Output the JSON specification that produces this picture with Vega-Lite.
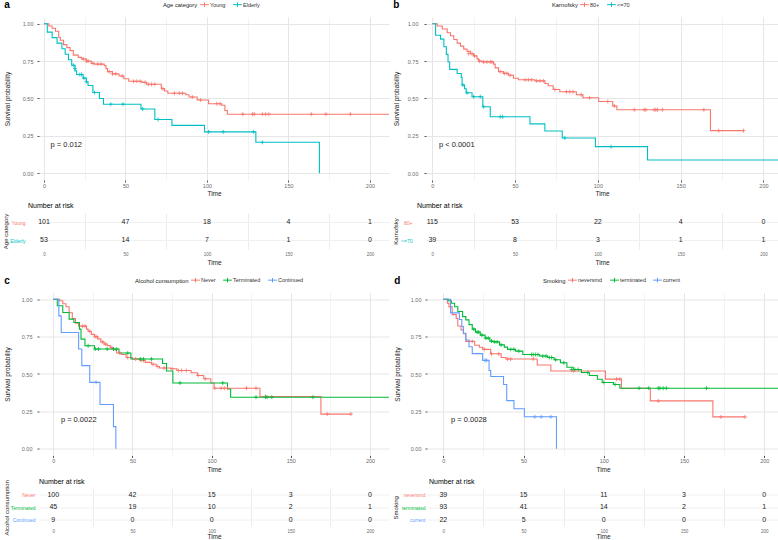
{
"$schema": "https://vega.github.io/schema/vega-lite/v6.json",
"background": "white",
"padding": {"left": 2, "top": 0, "right": 0, "bottom": 0},
"config": {
  "font": "Liberation Sans",
  "view": {"stroke": null},
  "axis": {"domain": false, "labelColor": "#6b6b6b", "titleColor": "#222222", "titleFontWeight": "normal", "labelFontSize": 5.5, "titleFontSize": 6.5, "tickColor": "#555555", "tickSize": 2, "labelPadding": 1, "titlePadding": 2},
  "legend": {"labelFontSize": 5.5, "titleFontSize": 5.8, "titleFontWeight": "normal", "labelColor": "#333333", "titleColor": "#222222"},
  "title": {"fontSize": 10, "fontWeight": "bold", "anchor": "start", "color": "#000000"}
},
"datasets": {
  "a_curve": [
    {"g":"Young","t":0,"s":1},{"g":"Young","t":3,"s":0.985},{"g":"Young","t":5,"s":0.97},{"g":"Young","t":7,"s":0.95},{"g":"Young","t":9,"s":0.91},{"g":"Young","t":10,"s":0.89},{"g":"Young","t":12,"s":0.86},{"g":"Young","t":14,"s":0.84},{"g":"Young","t":16,"s":0.82},{"g":"Young","t":18,"s":0.79},{"g":"Young","t":21,"s":0.775},{"g":"Young","t":23,"s":0.765},{"g":"Young","t":26,"s":0.75},{"g":"Young","t":29,"s":0.735},{"g":"Young","t":31,"s":0.73},{"g":"Young","t":37,"s":0.72},{"g":"Young","t":38,"s":0.7},{"g":"Young","t":39,"s":0.68},{"g":"Young","t":42,"s":0.665},{"g":"Young","t":46,"s":0.65},{"g":"Young","t":49,"s":0.632},{"g":"Young","t":52,"s":0.615},{"g":"Young","t":60,"s":0.608},{"g":"Young","t":63,"s":0.595},{"g":"Young","t":72,"s":0.565},{"g":"Young","t":74,"s":0.55},{"g":"Young","t":76,"s":0.535},{"g":"Young","t":87,"s":0.525},{"g":"Young","t":89,"s":0.51},{"g":"Young","t":94,"s":0.49},{"g":"Young","t":101,"s":0.465},{"g":"Young","t":109,"s":0.455},{"g":"Young","t":111,"s":0.42},{"g":"Young","t":112.5,"s":0.395},{"g":"Young","t":212,"s":0.395},
    {"g":"Elderly","t":0,"s":1},{"g":"Elderly","t":2,"s":0.944},{"g":"Elderly","t":5,"s":0.907},{"g":"Elderly","t":8,"s":0.87},{"g":"Elderly","t":11,"s":0.833},{"g":"Elderly","t":13,"s":0.796},{"g":"Elderly","t":15,"s":0.759},{"g":"Elderly","t":17,"s":0.722},{"g":"Elderly","t":19,"s":0.685},{"g":"Elderly","t":20,"s":0.66},{"g":"Elderly","t":24,"s":0.636},{"g":"Elderly","t":26,"s":0.612},{"g":"Elderly","t":27,"s":0.587},{"g":"Elderly","t":30,"s":0.54},{"g":"Elderly","t":34,"s":0.5},{"g":"Elderly","t":36.5,"s":0.462},{"g":"Elderly","t":59.5,"s":0.43},{"g":"Elderly","t":68,"s":0.36},{"g":"Elderly","t":78.5,"s":0.32},{"g":"Elderly","t":98.5,"s":0.277},{"g":"Elderly","t":130,"s":0.207},{"g":"Elderly","t":169,"s":0}
  ],
  "a_cens": [
    {"g":"Young","t":24,"s":0.765},{"g":"Young","t":26,"s":0.75},{"g":"Young","t":27,"s":0.75},{"g":"Young","t":30,"s":0.735},{"g":"Young","t":33,"s":0.73},{"g":"Young","t":35,"s":0.73},{"g":"Young","t":40,"s":0.68},{"g":"Young","t":42,"s":0.665},{"g":"Young","t":44,"s":0.665},{"g":"Young","t":48,"s":0.65},{"g":"Young","t":55,"s":0.615},{"g":"Young","t":57,"s":0.615},{"g":"Young","t":59,"s":0.615},{"g":"Young","t":62,"s":0.608},{"g":"Young","t":64,"s":0.595},{"g":"Young","t":66,"s":0.595},{"g":"Young","t":68,"s":0.595},{"g":"Young","t":73,"s":0.565},{"g":"Young","t":80,"s":0.535},{"g":"Young","t":83,"s":0.535},{"g":"Young","t":85,"s":0.535},{"g":"Young","t":91,"s":0.51},{"g":"Young","t":96,"s":0.49},{"g":"Young","t":106,"s":0.465},{"g":"Young","t":108,"s":0.465},{"g":"Young","t":122,"s":0.395},{"g":"Young","t":128,"s":0.395},{"g":"Young","t":129,"s":0.395},{"g":"Young","t":134,"s":0.395},{"g":"Young","t":136,"s":0.395},{"g":"Young","t":138,"s":0.395},{"g":"Young","t":164,"s":0.395},{"g":"Young","t":173,"s":0.395},{"g":"Young","t":188,"s":0.395},
    {"g":"Elderly","t":18,"s":0.722},{"g":"Elderly","t":19,"s":0.7},{"g":"Elderly","t":22,"s":0.66},{"g":"Elderly","t":23,"s":0.66},{"g":"Elderly","t":24.5,"s":0.636},{"g":"Elderly","t":26,"s":0.612},{"g":"Elderly","t":31,"s":0.54},{"g":"Elderly","t":41,"s":0.462},{"g":"Elderly","t":48.5,"s":0.462},{"g":"Elderly","t":60.5,"s":0.43},{"g":"Elderly","t":70,"s":0.36},{"g":"Elderly","t":101,"s":0.277},{"g":"Elderly","t":110,"s":0.277},{"g":"Elderly","t":128.5,"s":0.277},{"g":"Elderly","t":134,"s":0.207}
  ],
  "a_risk": [
    {"g":"Young","t":0,"n":101},{"g":"Young","t":50,"n":47},{"g":"Young","t":100,"n":18},{"g":"Young","t":150,"n":4},{"g":"Young","t":200,"n":1},
    {"g":"Elderly","t":0,"n":53},{"g":"Elderly","t":50,"n":14},{"g":"Elderly","t":100,"n":7},{"g":"Elderly","t":150,"n":1},{"g":"Elderly","t":200,"n":0}
  ],
  "b_curve": [
    {"g":"80+","t":0,"s":1},{"g":"80+","t":3,"s":0.985},{"g":"80+","t":6,"s":0.965},{"g":"80+","t":9,"s":0.94},{"g":"80+","t":11,"s":0.92},{"g":"80+","t":13,"s":0.895},{"g":"80+","t":15,"s":0.87},{"g":"80+","t":17,"s":0.85},{"g":"80+","t":19,"s":0.83},{"g":"80+","t":21,"s":0.815},{"g":"80+","t":23,"s":0.8},{"g":"80+","t":25,"s":0.785},{"g":"80+","t":27,"s":0.765},{"g":"80+","t":28,"s":0.75},{"g":"80+","t":30,"s":0.745},{"g":"80+","t":37,"s":0.73},{"g":"80+","t":38,"s":0.705},{"g":"80+","t":40,"s":0.68},{"g":"80+","t":43,"s":0.668},{"g":"80+","t":46,"s":0.655},{"g":"80+","t":49,"s":0.635},{"g":"80+","t":52,"s":0.625},{"g":"80+","t":62,"s":0.618},{"g":"80+","t":68,"s":0.6},{"g":"80+","t":70,"s":0.585},{"g":"80+","t":73,"s":0.56},{"g":"80+","t":77,"s":0.545},{"g":"80+","t":87,"s":0.525},{"g":"80+","t":91,"s":0.505},{"g":"80+","t":100.5,"s":0.48},{"g":"80+","t":109,"s":0.45},{"g":"80+","t":111.5,"s":0.425},{"g":"80+","t":168,"s":0.285},{"g":"80+","t":188,"s":0.285},
    {"g":"<=70","t":0,"s":1},{"g":"<=70","t":2,"s":0.923},{"g":"<=70","t":5,"s":0.897},{"g":"<=70","t":7,"s":0.846},{"g":"<=70","t":8.5,"s":0.795},{"g":"<=70","t":9.5,"s":0.744},{"g":"<=70","t":10.5,"s":0.695},{"g":"<=70","t":15,"s":0.667},{"g":"<=70","t":17.5,"s":0.641},{"g":"<=70","t":18,"s":0.59},{"g":"<=70","t":19.5,"s":0.565},{"g":"<=70","t":20.5,"s":0.538},{"g":"<=70","t":24,"s":0.512},{"g":"<=70","t":30.5,"s":0.445},{"g":"<=70","t":35,"s":0.378},{"g":"<=70","t":59,"s":0.33},{"g":"<=70","t":68,"s":0.283},{"g":"<=70","t":78.5,"s":0.236},{"g":"<=70","t":98.5,"s":0.178},{"g":"<=70","t":130,"s":0.089},{"g":"<=70","t":212,"s":0.089}
  ],
  "b_cens": [
    {"g":"80+","t":22,"s":0.8},{"g":"80+","t":24,"s":0.8},{"g":"80+","t":25.5,"s":0.785},{"g":"80+","t":28.5,"s":0.75},{"g":"80+","t":31,"s":0.745},{"g":"80+","t":33,"s":0.745},{"g":"80+","t":35,"s":0.745},{"g":"80+","t":36,"s":0.745},{"g":"80+","t":41,"s":0.68},{"g":"80+","t":43.5,"s":0.668},{"g":"80+","t":45,"s":0.668},{"g":"80+","t":47,"s":0.655},{"g":"80+","t":56,"s":0.625},{"g":"80+","t":58,"s":0.625},{"g":"80+","t":60,"s":0.625},{"g":"80+","t":63,"s":0.618},{"g":"80+","t":65,"s":0.618},{"g":"80+","t":67,"s":0.618},{"g":"80+","t":74,"s":0.56},{"g":"80+","t":81,"s":0.545},{"g":"80+","t":83,"s":0.545},{"g":"80+","t":85,"s":0.545},{"g":"80+","t":90,"s":0.525},{"g":"80+","t":95,"s":0.505},{"g":"80+","t":106,"s":0.48},{"g":"80+","t":110,"s":0.45},{"g":"80+","t":122,"s":0.425},{"g":"80+","t":128,"s":0.425},{"g":"80+","t":129,"s":0.425},{"g":"80+","t":134,"s":0.425},{"g":"80+","t":135,"s":0.425},{"g":"80+","t":136,"s":0.425},{"g":"80+","t":139,"s":0.425},{"g":"80+","t":164,"s":0.425},{"g":"80+","t":173,"s":0.285},{"g":"80+","t":188,"s":0.285},
    {"g":"<=70","t":18.5,"s":0.59},{"g":"<=70","t":21,"s":0.538},{"g":"<=70","t":25,"s":0.512},{"g":"<=70","t":29,"s":0.512},{"g":"<=70","t":31,"s":0.445},{"g":"<=70","t":41,"s":0.378},{"g":"<=70","t":42.5,"s":0.378},{"g":"<=70","t":80,"s":0.236},{"g":"<=70","t":108,"s":0.178}
  ],
  "b_risk": [
    {"g":"80+","t":0,"n":115},{"g":"80+","t":50,"n":53},{"g":"80+","t":100,"n":22},{"g":"80+","t":150,"n":4},{"g":"80+","t":200,"n":0},
    {"g":"<=70","t":0,"n":39},{"g":"<=70","t":50,"n":8},{"g":"<=70","t":100,"n":3},{"g":"<=70","t":150,"n":1},{"g":"<=70","t":200,"n":1}
  ],
  "c_curve": [
    {"g":"Never","t":0,"s":1},{"g":"Never","t":4,"s":0.99},{"g":"Never","t":6,"s":0.97},{"g":"Never","t":8,"s":0.95},{"g":"Never","t":10,"s":0.91},{"g":"Never","t":12,"s":0.87},{"g":"Never","t":14,"s":0.84},{"g":"Never","t":16,"s":0.82},{"g":"Never","t":21,"s":0.8},{"g":"Never","t":22,"s":0.785},{"g":"Never","t":24,"s":0.765},{"g":"Never","t":26,"s":0.75},{"g":"Never","t":28,"s":0.735},{"g":"Never","t":30,"s":0.715},{"g":"Never","t":32,"s":0.7},{"g":"Never","t":34,"s":0.69},{"g":"Never","t":36,"s":0.675},{"g":"Never","t":38,"s":0.66},{"g":"Never","t":40,"s":0.64},{"g":"Never","t":43,"s":0.63},{"g":"Never","t":46,"s":0.61},{"g":"Never","t":50,"s":0.6},{"g":"Never","t":55,"s":0.59},{"g":"Never","t":58,"s":0.578},{"g":"Never","t":62,"s":0.565},{"g":"Never","t":65,"s":0.55},{"g":"Never","t":67,"s":0.54},{"g":"Never","t":74,"s":0.535},{"g":"Never","t":78,"s":0.523},{"g":"Never","t":87,"s":0.508},{"g":"Never","t":91,"s":0.49},{"g":"Never","t":95,"s":0.468},{"g":"Never","t":99.5,"s":0.44},{"g":"Never","t":101.5,"s":0.405},{"g":"Never","t":130.5,"s":0.35},{"g":"Never","t":169,"s":0.232},{"g":"Never","t":188,"s":0.232},
    {"g":"Terminated","t":0,"s":1},{"g":"Terminated","t":2.5,"s":0.956},{"g":"Terminated","t":6,"s":0.911},{"g":"Terminated","t":10,"s":0.867},{"g":"Terminated","t":13,"s":0.844},{"g":"Terminated","t":16.5,"s":0.8},{"g":"Terminated","t":17.5,"s":0.733},{"g":"Terminated","t":20,"s":0.689},{"g":"Terminated","t":26,"s":0.667},{"g":"Terminated","t":41.5,"s":0.64},{"g":"Terminated","t":49,"s":0.6},{"g":"Terminated","t":69,"s":0.57},{"g":"Terminated","t":71.5,"s":0.52},{"g":"Terminated","t":75.5,"s":0.44},{"g":"Terminated","t":110,"s":0.4},{"g":"Terminated","t":112,"s":0.345},{"g":"Terminated","t":212,"s":0.345},
    {"g":"Continued","t":0,"s":1},{"g":"Continued","t":3.5,"s":0.889},{"g":"Continued","t":5,"s":0.778},{"g":"Continued","t":16,"s":0.667},{"g":"Continued","t":18,"s":0.556},{"g":"Continued","t":23,"s":0.444},{"g":"Continued","t":29.5,"s":0.296},{"g":"Continued","t":38,"s":0.148},{"g":"Continued","t":39.5,"s":0}
  ],
  "c_cens": [
    {"g":"Never","t":18.5,"s":0.82},{"g":"Never","t":20,"s":0.82},{"g":"Never","t":23,"s":0.785},{"g":"Never","t":26.5,"s":0.75},{"g":"Never","t":27.5,"s":0.75},{"g":"Never","t":31,"s":0.715},{"g":"Never","t":33,"s":0.7},{"g":"Never","t":37,"s":0.675},{"g":"Never","t":42,"s":0.64},{"g":"Never","t":47,"s":0.61},{"g":"Never","t":52,"s":0.6},{"g":"Never","t":55.5,"s":0.59},{"g":"Never","t":57,"s":0.59},{"g":"Never","t":63,"s":0.565},{"g":"Never","t":66,"s":0.55},{"g":"Never","t":70,"s":0.54},{"g":"Never","t":75,"s":0.535},{"g":"Never","t":79,"s":0.523},{"g":"Never","t":81,"s":0.523},{"g":"Never","t":84,"s":0.523},{"g":"Never","t":91.5,"s":0.49},{"g":"Never","t":96,"s":0.468},{"g":"Never","t":102,"s":0.405},{"g":"Never","t":106,"s":0.405},{"g":"Never","t":108,"s":0.405},{"g":"Never","t":110,"s":0.405},{"g":"Never","t":122,"s":0.405},{"g":"Never","t":128,"s":0.405},{"g":"Never","t":134,"s":0.35},{"g":"Never","t":173,"s":0.232},{"g":"Never","t":188,"s":0.232},
    {"g":"Terminated","t":22,"s":0.689},{"g":"Terminated","t":26.5,"s":0.667},{"g":"Terminated","t":28.5,"s":0.667},{"g":"Terminated","t":34,"s":0.667},{"g":"Terminated","t":38,"s":0.667},{"g":"Terminated","t":40,"s":0.667},{"g":"Terminated","t":47,"s":0.64},{"g":"Terminated","t":55,"s":0.6},{"g":"Terminated","t":57,"s":0.6},{"g":"Terminated","t":62,"s":0.6},{"g":"Terminated","t":80,"s":0.44},{"g":"Terminated","t":107,"s":0.44},{"g":"Terminated","t":128,"s":0.345},{"g":"Terminated","t":134,"s":0.345},{"g":"Terminated","t":135,"s":0.345},{"g":"Terminated","t":138,"s":0.345},{"g":"Terminated","t":164,"s":0.345},
    {"g":"Continued","t":27,"s":0.444}
  ],
  "c_risk": [
    {"g":"Never","t":0,"n":100},{"g":"Never","t":50,"n":42},{"g":"Never","t":100,"n":15},{"g":"Never","t":150,"n":3},{"g":"Never","t":200,"n":0},
    {"g":"Terminated","t":0,"n":45},{"g":"Terminated","t":50,"n":19},{"g":"Terminated","t":100,"n":10},{"g":"Terminated","t":150,"n":2},{"g":"Terminated","t":200,"n":1},
    {"g":"Continued","t":0,"n":9},{"g":"Continued","t":50,"n":0},{"g":"Continued","t":100,"n":0},{"g":"Continued","t":150,"n":0},{"g":"Continued","t":200,"n":0}
  ],
  "d_curve": [
    {"g":"neversmd","t":0,"s":1},{"g":"neversmd","t":2.5,"s":0.974},{"g":"neversmd","t":3.5,"s":0.949},{"g":"neversmd","t":5.5,"s":0.897},{"g":"neversmd","t":8,"s":0.872},{"g":"neversmd","t":9,"s":0.821},{"g":"neversmd","t":11,"s":0.795},{"g":"neversmd","t":12.5,"s":0.769},{"g":"neversmd","t":14,"s":0.718},{"g":"neversmd","t":19.5,"s":0.692},{"g":"neversmd","t":22.5,"s":0.679},{"g":"neversmd","t":24.5,"s":0.665},{"g":"neversmd","t":29.5,"s":0.635},{"g":"neversmd","t":36,"s":0.61},{"g":"neversmd","t":39,"s":0.6},{"g":"neversmd","t":58.5,"s":0.56},{"g":"neversmd","t":67,"s":0.52},{"g":"neversmd","t":101,"s":0.466},{"g":"neversmd","t":111,"s":0.405},{"g":"neversmd","t":129,"s":0.32},{"g":"neversmd","t":168,"s":0.213},{"g":"neversmd","t":188,"s":0.213},
    {"g":"terminated","t":0,"s":1},{"g":"terminated","t":3,"s":0.99},{"g":"terminated","t":5,"s":0.973},{"g":"terminated","t":7,"s":0.95},{"g":"terminated","t":9,"s":0.918},{"g":"terminated","t":12,"s":0.884},{"g":"terminated","t":14,"s":0.862},{"g":"terminated","t":16,"s":0.83},{"g":"terminated","t":18,"s":0.8},{"g":"terminated","t":20,"s":0.78},{"g":"terminated","t":23,"s":0.76},{"g":"terminated","t":26,"s":0.74},{"g":"terminated","t":29,"s":0.72},{"g":"terminated","t":31,"s":0.715},{"g":"terminated","t":35,"s":0.695},{"g":"terminated","t":38,"s":0.68},{"g":"terminated","t":40,"s":0.665},{"g":"terminated","t":45,"s":0.653},{"g":"terminated","t":49.5,"s":0.63},{"g":"terminated","t":60,"s":0.62},{"g":"terminated","t":65,"s":0.61},{"g":"terminated","t":69,"s":0.595},{"g":"terminated","t":73,"s":0.575},{"g":"terminated","t":77,"s":0.545},{"g":"terminated","t":81,"s":0.53},{"g":"terminated","t":86,"s":0.51},{"g":"terminated","t":91,"s":0.49},{"g":"terminated","t":96,"s":0.465},{"g":"terminated","t":99,"s":0.443},{"g":"terminated","t":106,"s":0.43},{"g":"terminated","t":110,"s":0.405},{"g":"terminated","t":212,"s":0.405},
    {"g":"current","t":0,"s":1},{"g":"current","t":4.5,"s":0.909},{"g":"current","t":10,"s":0.864},{"g":"current","t":11.5,"s":0.818},{"g":"current","t":12.5,"s":0.773},{"g":"current","t":14,"s":0.727},{"g":"current","t":16,"s":0.682},{"g":"current","t":18,"s":0.636},{"g":"current","t":24.5,"s":0.591},{"g":"current","t":28.5,"s":0.523},{"g":"current","t":29.5,"s":0.483},{"g":"current","t":37.5,"s":0.43},{"g":"current","t":39.5,"s":0.322},{"g":"current","t":44,"s":0.268},{"g":"current","t":50.5,"s":0.214},{"g":"current","t":70.5,"s":0}
  ],
  "d_cens": [
    {"g":"neversmd","t":18,"s":0.718},{"g":"neversmd","t":25.5,"s":0.665},{"g":"neversmd","t":30,"s":0.635},{"g":"neversmd","t":34.5,"s":0.635},{"g":"neversmd","t":40,"s":0.6},{"g":"neversmd","t":42,"s":0.6},{"g":"neversmd","t":56,"s":0.6},{"g":"neversmd","t":81,"s":0.52},{"g":"neversmd","t":108,"s":0.466},{"g":"neversmd","t":110,"s":0.466},{"g":"neversmd","t":134,"s":0.32},{"g":"neversmd","t":173,"s":0.213},{"g":"neversmd","t":188,"s":0.213},
    {"g":"terminated","t":19,"s":0.8},{"g":"terminated","t":21,"s":0.78},{"g":"terminated","t":22,"s":0.78},{"g":"terminated","t":24,"s":0.76},{"g":"terminated","t":26.5,"s":0.74},{"g":"terminated","t":28,"s":0.74},{"g":"terminated","t":30,"s":0.72},{"g":"terminated","t":32,"s":0.715},{"g":"terminated","t":33.5,"s":0.715},{"g":"terminated","t":36,"s":0.695},{"g":"terminated","t":42,"s":0.665},{"g":"terminated","t":44,"s":0.665},{"g":"terminated","t":47,"s":0.653},{"g":"terminated","t":55,"s":0.63},{"g":"terminated","t":56,"s":0.63},{"g":"terminated","t":57.5,"s":0.63},{"g":"terminated","t":59,"s":0.63},{"g":"terminated","t":62,"s":0.62},{"g":"terminated","t":64,"s":0.62},{"g":"terminated","t":66,"s":0.61},{"g":"terminated","t":67.5,"s":0.61},{"g":"terminated","t":70,"s":0.595},{"g":"terminated","t":75,"s":0.575},{"g":"terminated","t":80,"s":0.53},{"g":"terminated","t":82,"s":0.53},{"g":"terminated","t":84,"s":0.53},{"g":"terminated","t":90,"s":0.51},{"g":"terminated","t":100,"s":0.443},{"g":"terminated","t":107,"s":0.43},{"g":"terminated","t":122,"s":0.405},{"g":"terminated","t":128,"s":0.405},{"g":"terminated","t":134,"s":0.405},{"g":"terminated","t":135,"s":0.405},{"g":"terminated","t":137,"s":0.405},{"g":"terminated","t":139,"s":0.405},{"g":"terminated","t":164,"s":0.405},
    {"g":"current","t":26,"s":0.591},{"g":"current","t":27,"s":0.591},{"g":"current","t":57,"s":0.214},{"g":"current","t":61,"s":0.214},{"g":"current","t":67,"s":0.214}
  ],
  "d_risk": [
    {"g":"neversmd","t":0,"n":39},{"g":"neversmd","t":50,"n":15},{"g":"neversmd","t":100,"n":11},{"g":"neversmd","t":150,"n":3},{"g":"neversmd","t":200,"n":0},
    {"g":"terminated","t":0,"n":93},{"g":"terminated","t":50,"n":41},{"g":"terminated","t":100,"n":14},{"g":"terminated","t":150,"n":2},{"g":"terminated","t":200,"n":1},
    {"g":"current","t":0,"n":22},{"g":"current","t":50,"n":5},{"g":"current","t":100,"n":0},{"g":"current","t":150,"n":0},{"g":"current","t":200,"n":0}
  ]
},
"columns": 1,
"align": "none",
"spacing": 9.5,
"resolve": {"scale": {"color": "independent"}, "legend": {"color": "independent"}},
"concat": [
{
  "hconcat": [
  {
    "spacing": 5,
    "vconcat": [
    {
      "width": 350, "height": 163,
      "title": {"text": "a", "offset": 7},
      "layer": [
        {"data": {"name": "a_curve"}, "mark": {"type": "line", "interpolate": "step-after", "strokeWidth": 1.1, "clip": true},
         "encoding": {
           "x": {"field": "t", "type": "quantitative", "scale": {"domain": [-3.07, 211.7], "nice": false, "zero": false},
                 "axis": {"title": "Time", "values": [0,25,50,75,100,125,150,175,200], "labelExpr": "datum.value % 50 == 0 ? datum.label : ''", "tickOpacity": {"condition": {"test": "datum.value % 50 == 0", "value": 1}, "value": 0}, "gridColor": {"condition": {"test": "datum.value % 50 == 0", "value": "#e6e6e6"}, "value": "#f3f3f3"}}},
           "y": {"field": "s", "type": "quantitative", "scale": {"domain": [-0.045, 1.045], "nice": false, "zero": false},
                 "axis": {"title": "Survival probability", "values": [0,0.125,0.25,0.375,0.5,0.625,0.75,0.875,1], "labelExpr": "(datum.value*4) % 1 == 0 ? format(datum.value, '.2f') : ''", "tickOpacity": {"condition": {"test": "(datum.value*4) % 1 == 0", "value": 1}, "value": 0}, "gridColor": {"condition": {"test": "(datum.value*4) % 1 == 0", "value": "#e6e6e6"}, "value": "#f3f3f3"}, "labelPadding": 4, "titlePadding": 12}},
           "color": {"field": "g", "type": "nominal", "scale": {"domain": ["Young", "Elderly"], "range": ["#F8766D", "#00BFC4"]},
                     "legend": {"title": "Age category", "orient": "none", "legendX": 124, "legendY": -16, "direction": "horizontal", "titleOrient": "left", "titlePadding": 3, "symbolType": "M-1.6,0H1.6M0,-0.8V0.8", "symbolSize": 30, "symbolStrokeWidth": 1, "columnPadding": 5, "labelOffset": 2}}
         }},
        {"data": {"name": "a_cens"}, "mark": {"type": "point", "shape": "M-1,0H1M0,-1V1", "filled": false, "size": 16, "strokeWidth": 0.8, "opacity": 1},
         "encoding": {"x": {"field": "t", "type": "quantitative"}, "y": {"field": "s", "type": "quantitative"}, "color": {"field": "g", "type": "nominal"}}},
        {"data": {"values": [{"t": 4, "s": 0.19, "label": "p = 0.012"}]}, "mark": {"type": "text", "align": "left", "baseline": "middle", "fontSize": 7.5, "color": "#222222"},
         "encoding": {"x": {"field": "t", "type": "quantitative"}, "y": {"field": "s", "type": "quantitative"}, "text": {"field": "label"}}}
      ]
    },
    {
      "width": 350, "height": 36,
      "title": {"text": "Number at risk", "anchor": "start", "frame": "group", "dx": -11, "fontSize": 7, "fontWeight": "normal", "offset": 4},
      "data": {"name": "a_risk"},
      "mark": {"type": "text", "fontSize": 7, "color": "#222222"},
      "encoding": {
        "x": {"field": "t", "type": "quantitative", "scale": {"domain": [-3.07, 211.7], "nice": false, "zero": false},
              "axis": {"title": "Time", "values": [0,25,50,75,100,125,150,175,200], "labelExpr": "datum.value % 50 == 0 ? datum.label : ''", "ticks": false, "labelFontSize": 4.5, "gridOpacity": {"condition": {"test": "datum.value % 50 == 0", "value": 0}, "value": 1}, "gridColor": "#ececec", "labelPadding": 2, "titlePadding": 3.5}},
        "y": {"field": "g", "type": "nominal", "sort": ["Young", "Elderly"], "scale": {"type": "point", "padding": 0.5},
              "axis": {"title": "Age category", "ticks": false, "labelPadding": 14, "labelFontSize": 5, "grid": true, "gridColor": "#f0f0f0", "titleFontSize": 6, "titlePadding": 1, "labelColor": {"condition": {"test": "datum.value == 'Young'", "value": "#F8766D"}, "value": "#00BFC4"}}},
        "text": {"field": "n", "type": "quantitative"}
      }
    }
    ]
  },
  {
    "spacing": 5,
    "vconcat": [
    {
      "width": 352, "height": 163,
      "title": {"text": "b", "offset": 7},
      "layer": [
        {"data": {"name": "b_curve"}, "mark": {"type": "line", "interpolate": "step-after", "strokeWidth": 1.1, "clip": true},
         "encoding": {
           "x": {"field": "t", "type": "quantitative", "scale": {"domain": [-3.8, 208.8], "nice": false, "zero": false},
                 "axis": {"title": "Time", "values": [0,25,50,75,100,125,150,175,200], "labelExpr": "datum.value % 50 == 0 ? datum.label : ''", "tickOpacity": {"condition": {"test": "datum.value % 50 == 0", "value": 1}, "value": 0}, "gridColor": {"condition": {"test": "datum.value % 50 == 0", "value": "#e6e6e6"}, "value": "#f3f3f3"}}},
           "y": {"field": "s", "type": "quantitative", "scale": {"domain": [-0.045, 1.045], "nice": false, "zero": false},
                 "axis": {"title": "Survival probability", "values": [0,0.125,0.25,0.375,0.5,0.625,0.75,0.875,1], "labelExpr": "(datum.value*4) % 1 == 0 ? format(datum.value, '.2f') : ''", "tickOpacity": {"condition": {"test": "(datum.value*4) % 1 == 0", "value": 1}, "value": 0}, "gridColor": {"condition": {"test": "(datum.value*4) % 1 == 0", "value": "#e6e6e6"}, "value": "#f3f3f3"}, "labelPadding": 6, "titlePadding": 8}},
           "color": {"field": "g", "type": "nominal", "scale": {"domain": ["80+", "<=70"], "range": ["#F8766D", "#00BFC4"]},
                     "legend": {"title": "Karnofsky", "orient": "none", "legendX": 126, "legendY": -16, "direction": "horizontal", "titleOrient": "left", "titlePadding": 3, "symbolType": "M-1.6,0H1.6M0,-0.8V0.8", "symbolSize": 30, "symbolStrokeWidth": 1, "columnPadding": 5, "labelOffset": 2}}
         }},
        {"data": {"name": "b_cens"}, "mark": {"type": "point", "shape": "M-1,0H1M0,-1V1", "filled": false, "size": 16, "strokeWidth": 0.8, "opacity": 1},
         "encoding": {"x": {"field": "t", "type": "quantitative"}, "y": {"field": "s", "type": "quantitative"}, "color": {"field": "g", "type": "nominal"}}},
        {"data": {"values": [{"t": 4, "s": 0.19, "label": "p < 0.0001"}]}, "mark": {"type": "text", "align": "left", "baseline": "middle", "fontSize": 7.5, "color": "#222222"},
         "encoding": {"x": {"field": "t", "type": "quantitative"}, "y": {"field": "s", "type": "quantitative"}, "text": {"field": "label"}}}
      ]
    },
    {
      "width": 352, "height": 36,
      "title": {"text": "Number at risk", "anchor": "start", "frame": "group", "dx": -9, "fontSize": 7, "fontWeight": "normal", "offset": 4},
      "data": {"name": "b_risk"},
      "mark": {"type": "text", "fontSize": 7, "color": "#222222"},
      "encoding": {
        "x": {"field": "t", "type": "quantitative", "scale": {"domain": [-3.8, 208.8], "nice": false, "zero": false},
              "axis": {"title": "Time", "values": [0,25,50,75,100,125,150,175,200], "labelExpr": "datum.value % 50 == 0 ? datum.label : ''", "ticks": false, "labelFontSize": 4.5, "gridOpacity": {"condition": {"test": "datum.value % 50 == 0", "value": 0}, "value": 1}, "gridColor": "#ececec", "labelPadding": 2, "titlePadding": 3.5}},
        "y": {"field": "g", "type": "nominal", "sort": ["80+", "<=70"], "scale": {"type": "point", "padding": 0.5},
              "axis": {"title": "Karnofsky", "ticks": false, "labelPadding": 14, "labelFontSize": 5, "grid": true, "gridColor": "#f0f0f0", "titleFontSize": 6, "titlePadding": 2.5, "labelColor": {"condition": {"test": "datum.value == '80+'", "value": "#F8766D"}, "value": "#00BFC4"}}},
        "text": {"field": "n", "type": "quantitative"}
      }
    }
    ]
  }
  ],
  "spacing": 3,
  "resolve": {"scale": {"color": "independent"}, "legend": {"color": "independent"}}
},
{
  "hconcat": [
  {
    "spacing": 5,
    "vconcat": [
    {
      "width": 350, "height": 163,
      "title": {"text": "c", "offset": 7},
      "layer": [
        {"data": {"name": "c_curve"}, "mark": {"type": "line", "interpolate": "step-after", "strokeWidth": 1.1, "clip": true},
         "encoding": {
           "x": {"field": "t", "type": "quantitative", "scale": {"domain": [-9.03, 212], "nice": false, "zero": false},
                 "axis": {"title": "Time", "values": [0,25,50,75,100,125,150,175,200], "labelExpr": "datum.value % 50 == 0 ? datum.label : ''", "tickOpacity": {"condition": {"test": "datum.value % 50 == 0", "value": 1}, "value": 0}, "gridColor": {"condition": {"test": "datum.value % 50 == 0", "value": "#e6e6e6"}, "value": "#f3f3f3"}}},
           "y": {"field": "s", "type": "quantitative", "scale": {"domain": [-0.045, 1.045], "nice": false, "zero": false},
                 "axis": {"title": "Survival probability", "values": [0,0.125,0.25,0.375,0.5,0.625,0.75,0.875,1], "labelExpr": "(datum.value*4) % 1 == 0 ? format(datum.value, '.2f') : ''", "tickOpacity": {"condition": {"test": "(datum.value*4) % 1 == 0", "value": 1}, "value": 0}, "gridColor": {"condition": {"test": "(datum.value*4) % 1 == 0", "value": "#e6e6e6"}, "value": "#f3f3f3"}, "labelPadding": 5, "titlePadding": 11}},
           "color": {"field": "g", "type": "nominal", "scale": {"domain": ["Never", "Terminated", "Continued"], "range": ["#F8766D", "#00BA38", "#619CFF"]},
                     "legend": {"title": "Alcohol consumption", "orient": "none", "legendX": 96, "legendY": -16, "direction": "horizontal", "titleOrient": "left", "titlePadding": 3, "symbolType": "M-1.6,0H1.6M0,-0.8V0.8", "symbolSize": 30, "symbolStrokeWidth": 1, "columnPadding": 5, "labelOffset": 2}}
         }},
        {"data": {"name": "c_cens"}, "mark": {"type": "point", "shape": "M-1,0H1M0,-1V1", "filled": false, "size": 16, "strokeWidth": 0.8, "opacity": 1},
         "encoding": {"x": {"field": "t", "type": "quantitative"}, "y": {"field": "s", "type": "quantitative"}, "color": {"field": "g", "type": "nominal"}}},
        {"data": {"values": [{"t": 4.8, "s": 0.19, "label": "p = 0.0022"}]}, "mark": {"type": "text", "align": "left", "baseline": "middle", "fontSize": 7.5, "color": "#222222"},
         "encoding": {"x": {"field": "t", "type": "quantitative"}, "y": {"field": "s", "type": "quantitative"}, "text": {"field": "label"}}}
      ]
    },
    {
      "width": 350, "height": 37.5,
      "title": {"text": "Number at risk", "anchor": "start", "frame": "group", "dx": 0, "fontSize": 7, "fontWeight": "normal", "offset": -5},
      "data": {"name": "c_risk"},
      "mark": {"type": "text", "fontSize": 7, "color": "#222222"},
      "encoding": {
        "x": {"field": "t", "type": "quantitative", "scale": {"domain": [-9.03, 212], "nice": false, "zero": false},
              "axis": {"title": "Time", "values": [0,25,50,75,100,125,150,175,200], "labelExpr": "datum.value % 50 == 0 ? datum.label : ''", "ticks": false, "labelFontSize": 4.5, "gridOpacity": {"condition": {"test": "datum.value % 50 == 0", "value": 0}, "value": 1}, "gridColor": "#ececec", "labelPadding": 2.5, "titlePadding": 0}},
        "y": {"field": "g", "type": "nominal", "sort": ["Never", "Terminated", "Continued"], "scale": {"type": "point", "padding": 0.5},
              "axis": {"title": "Alcohol consumption", "ticks": false, "labelPadding": 4, "labelFontSize": 5, "grid": true, "gridColor": "#f0f0f0", "titleFontSize": 6, "titlePadding": 0.5, "labelColor": {"condition": [{"test": "datum.value == 'Never'", "value": "#F8766D"}, {"test": "datum.value == 'Terminated'", "value": "#00BA38"}], "value": "#619CFF"}}},
        "text": {"field": "n", "type": "quantitative"}
      }
    }
    ]
  },
  {
    "spacing": 5,
    "vconcat": [
    {
      "width": 352, "height": 163,
      "title": {"text": "d", "offset": 7},
      "layer": [
        {"data": {"name": "d_curve"}, "mark": {"type": "line", "interpolate": "step-after", "strokeWidth": 1.1, "clip": true},
         "encoding": {
           "x": {"field": "t", "type": "quantitative", "scale": {"domain": [-10.2, 209.2], "nice": false, "zero": false},
                 "axis": {"title": "Time", "values": [0,25,50,75,100,125,150,175,200], "labelExpr": "datum.value % 50 == 0 ? datum.label : ''", "tickOpacity": {"condition": {"test": "datum.value % 50 == 0", "value": 1}, "value": 0}, "gridColor": {"condition": {"test": "datum.value % 50 == 0", "value": "#e6e6e6"}, "value": "#f3f3f3"}}},
           "y": {"field": "s", "type": "quantitative", "scale": {"domain": [-0.045, 1.045], "nice": false, "zero": false},
                 "axis": {"title": "Survival probability", "values": [0,0.125,0.25,0.375,0.5,0.625,0.75,0.875,1], "labelExpr": "(datum.value*4) % 1 == 0 ? format(datum.value, '.2f') : ''", "tickOpacity": {"condition": {"test": "(datum.value*4) % 1 == 0", "value": 1}, "value": 0}, "gridColor": {"condition": {"test": "(datum.value*4) % 1 == 0", "value": "#e6e6e6"}, "value": "#f3f3f3"}, "labelPadding": 4, "titlePadding": 10}},
           "color": {"field": "g", "type": "nominal", "scale": {"domain": ["neversmd", "terminated", "current"], "range": ["#F8766D", "#00BA38", "#619CFF"]},
                     "legend": {"title": "Smoking", "orient": "none", "legendX": 116, "legendY": -16, "direction": "horizontal", "titleOrient": "left", "titlePadding": 3, "symbolType": "M-1.6,0H1.6M0,-0.8V0.8", "symbolSize": 30, "symbolStrokeWidth": 1, "columnPadding": 5, "labelOffset": 2}}
         }},
        {"data": {"name": "d_cens"}, "mark": {"type": "point", "shape": "M-1,0H1M0,-1V1", "filled": false, "size": 16, "strokeWidth": 0.8, "opacity": 1},
         "encoding": {"x": {"field": "t", "type": "quantitative"}, "y": {"field": "s", "type": "quantitative"}, "color": {"field": "g", "type": "nominal"}}},
        {"data": {"values": [{"t": 4.8, "s": 0.19, "label": "p = 0.0028"}]}, "mark": {"type": "text", "align": "left", "baseline": "middle", "fontSize": 7.5, "color": "#222222"},
         "encoding": {"x": {"field": "t", "type": "quantitative"}, "y": {"field": "s", "type": "quantitative"}, "text": {"field": "label"}}}
      ]
    },
    {
      "width": 352, "height": 37.5,
      "title": {"text": "Number at risk", "anchor": "start", "frame": "group", "dx": 2, "fontSize": 7, "fontWeight": "normal", "offset": 4},
      "data": {"name": "d_risk"},
      "mark": {"type": "text", "fontSize": 7, "color": "#222222"},
      "encoding": {
        "x": {"field": "t", "type": "quantitative", "scale": {"domain": [-10.2, 209.2], "nice": false, "zero": false},
              "axis": {"title": "Time", "values": [0,25,50,75,100,125,150,175,200], "labelExpr": "datum.value % 50 == 0 ? datum.label : ''", "ticks": false, "labelFontSize": 4.5, "gridOpacity": {"condition": {"test": "datum.value % 50 == 0", "value": 0}, "value": 1}, "gridColor": "#ececec", "labelPadding": 2.5, "titlePadding": 0}},
        "y": {"field": "g", "type": "nominal", "sort": ["neversmd", "terminated", "current"], "scale": {"type": "point", "padding": 0.5},
              "axis": {"title": "Smoking", "ticks": false, "labelPadding": 2, "labelFontSize": 5, "grid": true, "gridColor": "#f0f0f0", "titleFontSize": 6, "titlePadding": 2.5, "labelColor": {"condition": [{"test": "datum.value == 'neversmd'", "value": "#F8766D"}, {"test": "datum.value == 'terminated'", "value": "#00BA38"}], "value": "#619CFF"}}},
        "text": {"field": "n", "type": "quantitative"}
      }
    }
    ]
  }
  ],
  "spacing": 3,
  "resolve": {"scale": {"color": "independent"}, "legend": {"color": "independent"}}
}
]
}
